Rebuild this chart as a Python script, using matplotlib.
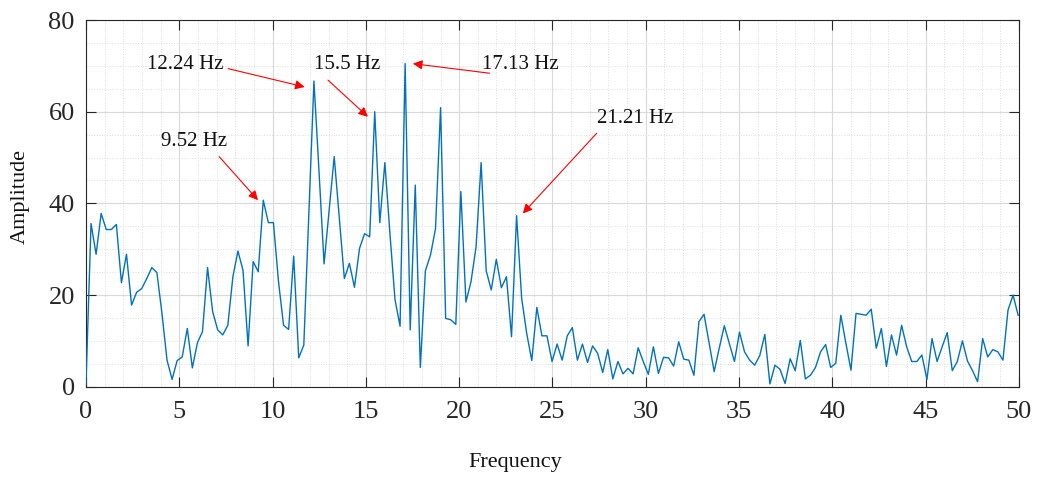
import numpy as np
import matplotlib.pyplot as plt
from matplotlib.ticker import MultipleLocator

# spectrum values (uniform frequency step)
df = 0.2715  # Hz
amp = [0.5, 35.6, 28.9, 37.8, 34.3, 34.3, 35.4, 22.7, 28.9, 17.8,
       20.6, 21.4, 23.6, 26.0, 24.9, 16.0, 5.8, 1.6, 5.7, 6.5,
       12.7, 4.1, 9.6, 12.0, 26.0, 16.4, 12.4, 11.3, 13.4, 24.0,
       29.6, 25.4, 8.9, 27.3, 25.1, 40.7, 35.8, 35.8, 23.0, 13.4,
       12.5, 28.5, 6.3, 9.1, 38.0, 66.7, 47.0, 26.8, 38.5, 50.2,
       37.0, 23.6, 26.9, 21.7, 30.2, 33.4, 32.7, 60.0, 35.8, 48.9,
       33.4, 19.0, 13.2, 70.5, 12.4, 44.0, 4.2, 25.3, 28.7, 34.5,
       60.9, 14.9, 14.6, 13.6, 42.6, 18.5, 22.9, 30.5, 48.9, 25.3,
       21.1, 27.8, 21.6, 24.0, 10.9, 37.3, 19.3, 11.6, 5.7, 17.3,
       11.1, 11.1, 5.5, 9.3, 5.8, 11.1, 12.9, 5.8, 9.3, 5.3,
       8.9, 7.3, 3.1, 8.1, 1.7, 5.5, 2.8, 4.0, 2.8, 8.5,
       5.5, 2.7, 8.7, 2.9, 6.4, 6.3, 4.5, 9.8, 6.0, 5.8,
       2.5, 14.2, 15.8, 9.5, 3.3, 8.4, 13.3, 9.4, 5.5, 11.9,
       7.6, 5.8, 4.7, 6.8, 11.4, 0.6, 4.7, 3.8, 0.7, 6.1,
       3.5, 10.1, 1.7, 2.5, 4.2, 7.6, 9.2, 4.2, 5.1, 15.6,
       9.5, 3.6, 16.0, 15.8, 15.6, 16.9, 8.4, 12.7, 4.4, 11.3,
       6.9, 13.4, 8.7, 5.5, 5.5, 6.9, 1.6, 10.5, 5.5, 8.7,
       11.8, 3.5, 5.5, 10.0, 5.6, 3.5, 1.1, 10.5, 6.5, 8.1,
       7.6, 5.8, 16.7, 20.0, 15.6]
freq = np.arange(len(amp)) * df

# peak annotations: label, text position, arrow tail, arrow head
peak_labels = ['9.52 Hz', '12.24 Hz', '15.5 Hz', '17.13 Hz', '21.21 Hz']
text_xy = [(4.0, 53.6), (3.25, 70.4), (12.22, 70.4), (21.22, 70.4), (27.37, 58.5)]
tail_xy = [(7.14, 50.2), (7.62, 69.4), (12.97, 66.9), (21.63, 68.4), (27.37, 55.3)]
head_xy = [(9.22, 40.7), (11.72, 65.4), (15.11, 58.9), (17.52, 70.5), (23.41, 37.8)]

plt.rcParams['font.family'] = ['Liberation Serif', 'DejaVu Serif']

fig = plt.figure(figsize=(10.37, 4.78), dpi=100)
ax = fig.add_axes([0.0829, 0.191, 0.8997, 0.767])

ax.plot(freq, amp, color='#0072BD', lw=1.0, zorder=3)

ax.set_xlim(0, 50)
ax.set_ylim(0, 80)
ax.xaxis.set_major_locator(MultipleLocator(5))
ax.xaxis.set_minor_locator(MultipleLocator(1))
ax.yaxis.set_major_locator(MultipleLocator(20))
ax.yaxis.set_minor_locator(MultipleLocator(5))

ax.grid(which='major', color='#d9d9d9', lw=0.8, ls='-')
ax.grid(which='minor', color='#dedede', lw=0.7, ls=':')
ax.set_axisbelow(True)

ax.tick_params(which='major', direction='in', length=7, width=0.8,
               top=True, right=True, color='#262626',
               labelsize=19, labelcolor='#262626')
ax.tick_params(axis='x', pad=10)
ax.tick_params(axis='y', pad=8)
ax.tick_params(which='minor', length=0)
for s in ax.spines.values():
    s.set_color('#262626')
    s.set_linewidth(0.8)

for lab, t, a, b in zip(peak_labels, text_xy, tail_xy, head_xy):
    ax.text(t[0], t[1], lab, fontsize=15, color='#111111', ha='left', va='center')
    ax.annotate('', xy=b, xytext=a,
                arrowprops=dict(arrowstyle='-|>', color='red', lw=0.8,
                                mutation_scale=14, shrinkA=0, shrinkB=0))

fig.text(515 / 1037, 1 - 463 / 478, 'Frequency', fontsize=16,
         ha='center', va='center', color='#111111')
fig.text(20 / 1037, 1 - 197 / 478, 'Amplitude', fontsize=16, rotation=90,
         ha='center', va='center', color='#111111')

fig.savefig('out.png', dpi=100)
